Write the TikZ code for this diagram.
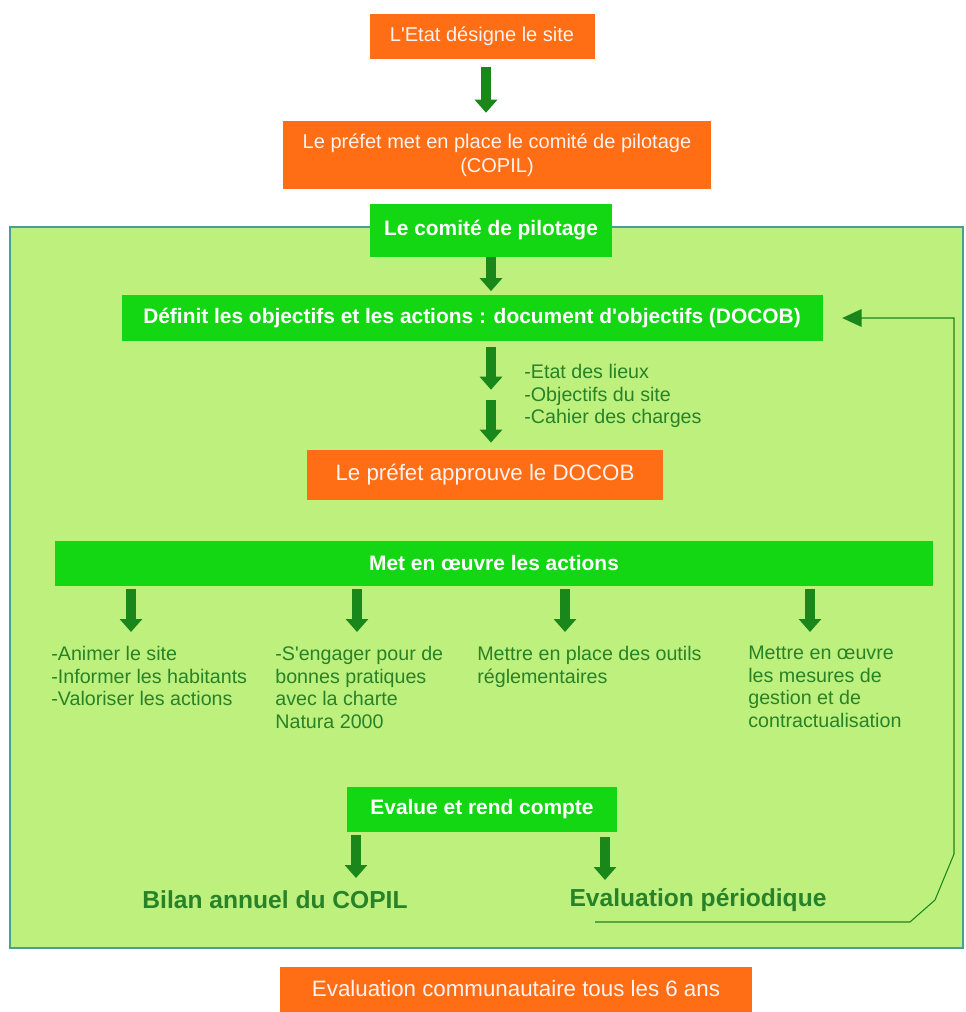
\documentclass[tikz,border=0pt]{standalone}
\usepackage{fontspec}
\setmainfont{Liberation Sans}
\usetikzlibrary{arrows.meta}

\definecolor{orangefill}{RGB}{255,110,20}
\definecolor{greenfill}{RGB}{20,215,20}
\definecolor{bgfill}{RGB}{190,240,125}
\definecolor{bgborder}{RGB}{70,160,150}
\definecolor{arrowgreen}{RGB}{25,135,25}
\definecolor{textgreen}{RGB}{40,130,40}
\definecolor{paletext}{RGB}{255,242,242}

\newlength\pxu
\setlength\pxu{0.02cm}

\tikzset{
    orangebox/.style={fill=orangefill, text=paletext, inner sep=0pt, align=center,
        font=\fontsize{11.4}{14}\selectfont},
    greenbox/.style={fill=greenfill, text=white, inner sep=0pt,
        font=\bfseries\fontsize{11.9}{14}\selectfont},
    bigarrow/.style={draw=arrowgreen, line width=6.2pt, -{Triangle[width=12.5pt,length=7.4pt]}},
    sidetext/.style={text=textgreen, inner sep=0pt, anchor=north west, align=left,
        font=\fontsize{11.2}{12.8}\selectfont},
    headtext/.style={text=textgreen, inner sep=0pt, font=\bfseries\fontsize{14}{16}\selectfont},
    loopline/.style={draw=arrowgreen, line width=0.6pt, -{Triangle[width=10pt,length=11pt]}}
}

\begin{document}
\begin{tikzpicture}[x=0.02cm, y=-0.02cm]
    \useasboundingbox (0,0) rectangle (965,1012);

    % cadre du comite de pilotage
    \filldraw[fill=bgfill, draw=bgborder, line width=0.6pt] (10,227) rectangle (963,948);

    \node[orangebox, minimum width=225\pxu, minimum height=45\pxu] (etat) at (482,36) {L\textquotesingle Etat désigne le site};
    \node[orangebox, minimum width=428\pxu, minimum height=68\pxu] (prefet) at (497,155) {Le préfet met en place le comité de pilotage\\(COPIL)};
    \node[greenbox, minimum width=242\pxu, minimum height=53\pxu] (comite) at (491,230) {Le comité de pilotage};
    \node[greenbox, minimum width=701\pxu, minimum height=46\pxu] (definit) at (472,318) {Définit les objectifs et les actions : document d\textquotesingle objectifs (DOCOB)};
    \node[sidetext] (docob) at (524,364) {-Etat des lieux\\-Objectifs du site\\-Cahier des charges};
    \node[orangebox, minimum width=356\pxu, minimum height=50\pxu, font=\fontsize{12.7}{15}\selectfont] (approuve) at (485,475) {Le préfet approuve le DOCOB};
    \node[greenbox, minimum width=878\pxu, minimum height=45\pxu] (met) at (494,563) {Met en œuvre les actions};

    \node[sidetext] (col1) at (51,646) {-Animer le site\\-Informer les habitants\\-Valoriser les actions};
    \node[sidetext] (col2) at (275,646) {-S\textquotesingle engager pour de\\bonnes pratiques\\avec la charte\\Natura 2000};
    \node[sidetext] (col3) at (477,646) {Mettre en place des outils\\réglementaires};
    \node[sidetext] (col4) at (748,646) {Mettre en œuvre\\les mesures de\\gestion et de\\contractualisation};

    \node[greenbox, minimum width=270\pxu, minimum height=45\pxu] (evalue) at (482,809) {Evalue et rend compte};
    \node[headtext] (bilan) at (275,900) {Bilan annuel du COPIL};
    \node[headtext] (periodique) at (698,900) {Evaluation périodique};
    \node[orangebox, minimum width=472\pxu, minimum height=45\pxu, font=\fontsize{12.7}{15}\selectfont] (communautaire) at (516,989) {Evaluation communautaire tous les 6 ans};

    \coordinate (mid) at (491,395);
    \coordinate (a1) at (131,632);
    \coordinate (a2) at (357,632);
    \coordinate (a3) at (565,632);
    \coordinate (a4) at (810,632);
    \coordinate (b1) at (356,878);
    \coordinate (b2) at (605,880);
    \coordinate (fb) at (595,922);

    \draw[bigarrow, shorten <=4.5pt, shorten >=4.5pt] (etat.south -| 486,0) -- (prefet.north -| 486,0);
    \draw[bigarrow, shorten >=2pt] (comite.south) -- (comite.south |- definit.north);
    \draw[bigarrow, shorten <=3pt, shorten >=3pt] (definit.south -| mid) -- (mid);
    \draw[bigarrow, shorten <=3pt, shorten >=4pt] (mid) -- (approuve.north -| mid);
    \draw[bigarrow, shorten <=2pt] (met.south -| a1) -- (a1);
    \draw[bigarrow, shorten <=2pt] (met.south -| a2) -- (a2);
    \draw[bigarrow, shorten <=2pt] (met.south -| a3) -- (a3);
    \draw[bigarrow, shorten <=2pt] (met.south -| a4) -- (a4);
    \draw[bigarrow, shorten <=2pt] (evalue.south -| b1) -- (b1);
    \draw[bigarrow, shorten <=3pt] (evalue.south -| b2) -- (b2);

    \draw[loopline, shorten >=11pt] (fb) -- (910,922) -- (935,900) -- (954,854) |- (definit.east);
\end{tikzpicture}
\end{document}
